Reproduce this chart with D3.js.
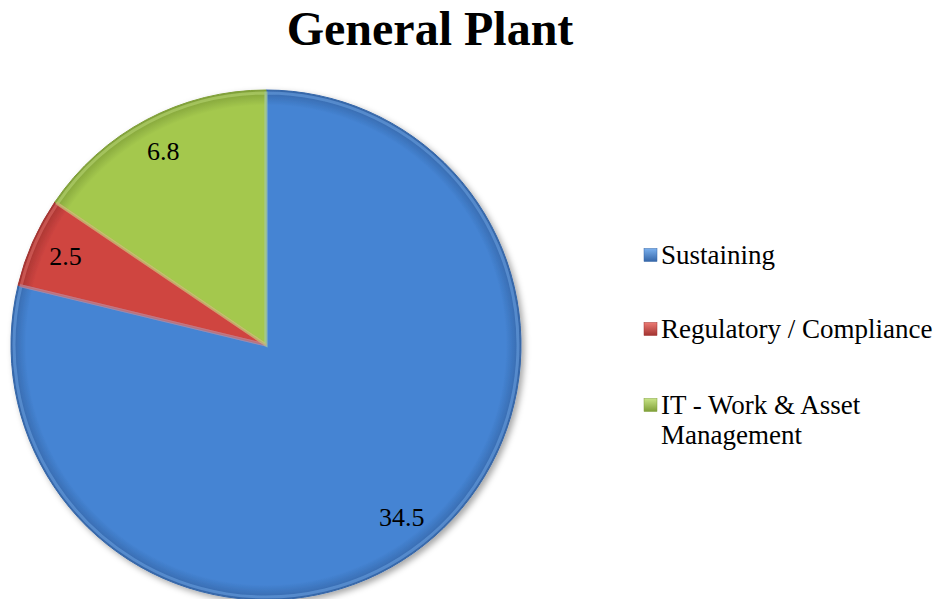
<!DOCTYPE html>
<html>
<head>
<meta charset="utf-8">
<script src="https://cdn.jsdelivr.net/npm/d3@7"></script>
<style>
  body { margin: 0; background: #fff; }
  svg { display: block; }
</style>
</head>
<body>
<div id="chart"></div>
<script>
const categories = ["Sustaining", "Regulatory / Compliance", "IT - Work & Asset Management"];
const values = [34.5, 2.5, 6.8];
const colors = ["#4584d3", "#cf4541", "#a4c84e"];
const lightColors = ["#7ab0ee", "#ec7a74", "#c8e486"];
const darkColors = ["#3566a8", "#a23330", "#7f9f38"];

const width = 934, height = 599;
const cx = 266, cy = 345, radius = 255;
const FONT = "Liberation Serif";

const svg = d3.select("#chart").append("svg")
    .attr("width", width)
    .attr("height", height);

const defs = svg.append("defs");

// gradients for a soft bevelled look (local coords of the pie group)
colors.forEach((c, idx) => {
    const g = defs.append("radialGradient")
        .attr("id", "grad" + idx)
        .attr("gradientUnits", "userSpaceOnUse")
        .attr("cx", 0).attr("cy", 0).attr("r", radius);
    g.append("stop").attr("offset", "0%").attr("stop-color", c);
    g.append("stop").attr("offset", "94%").attr("stop-color", c);
    g.append("stop").attr("offset", "100%").attr("stop-color", darkColors[idx]);
});

const shadow = defs.append("filter").attr("id", "shadow")
    .attr("x", "-10%").attr("y", "-10%").attr("width", "120%").attr("height", "120%");
shadow.append("feDropShadow")
    .attr("dx", 3).attr("dy", 3).attr("stdDeviation", 3)
    .attr("flood-color", "#000").attr("flood-opacity", 0.35);

// legend marker gradients
colors.forEach((c, idx) => {
    const g = defs.append("linearGradient")
        .attr("id", "lg" + idx)
        .attr("x1", 0).attr("y1", 0).attr("x2", 0).attr("y2", 1);
    g.append("stop").attr("offset", "0%").attr("stop-color", lightColors[idx]);
    g.append("stop").attr("offset", "100%").attr("stop-color", darkColors[idx]);
});

// title
svg.append("text")
    .attr("x", 430)
    .attr("y", 45)
    .attr("text-anchor", "middle")
    .attr("font-family", FONT)
    .attr("font-weight", "bold")
    .attr("font-size", 48)
    .attr("fill", "#000")
    .text("General Plant");

const pie = d3.pie().sort(null).value(d => d);
const arcs = pie(values);

const arc = d3.arc().innerRadius(0).outerRadius(radius);
const innerArc = d3.arc().innerRadius(0).outerRadius(radius - 3);
const labelArc = d3.arc().innerRadius(radius * 0.86).outerRadius(radius * 0.86);

const g = svg.append("g").attr("transform", `translate(${cx},${cy})`);

g.append("g")
    .attr("filter", "url(#shadow)")
    .selectAll("path.slice")
    .data(arcs)
    .enter()
    .append("path")
    .attr("class", "slice")
    .attr("d", arc)
    .attr("fill", (d, idx) => `url(#grad${idx})`)
    .attr("stroke", (d, idx) => darkColors[idx])
    .attr("stroke-width", 1);

// light bevel edge just inside each slice
g.selectAll("path.bevel")
    .data(arcs)
    .enter()
    .append("path")
    .attr("class", "bevel")
    .attr("d", innerArc)
    .attr("fill", "none")
    .attr("stroke", (d, idx) => lightColors[idx])
    .attr("stroke-opacity", 0.45)
    .attr("stroke-width", 3);

// data labels
g.selectAll("text.label")
    .data(arcs)
    .enter()
    .append("text")
    .attr("class", "label")
    .attr("transform", d => `translate(${labelArc.centroid(d)})`)
    .attr("text-anchor", "middle")
    .attr("dy", "0.35em")
    .attr("font-family", FONT)
    .attr("font-size", 26)
    .attr("fill", "#000")
    .text(d => d.data);

// legend
const legendX = 644;
const legendY = [255, 329, 405];
const legend = svg.append("g");
categories.forEach((name, idx) => {
    const row = legend.append("g").attr("transform", `translate(${legendX},${legendY[idx]})`);
    row.append("rect")
        .attr("x", 0).attr("y", -6.5)
        .attr("width", 13).attr("height", 13)
        .attr("fill", `url(#lg${idx})`)
        .attr("stroke", darkColors[idx])
        .attr("stroke-width", 0.5);
    const lines = idx === 2 ? ["IT - Work & Asset", "Management"] : [name];
    const t = row.append("text")
        .attr("x", 17)
        .attr("y", 0)
        .attr("font-family", FONT)
        .attr("font-size", 27)
        .attr("fill", "#000");
    t.selectAll("tspan")
        .data(lines)
        .enter()
        .append("tspan")
        .attr("x", 17)
        .attr("dy", (d, k) => k === 0 ? "0.35em" : "1.1em")
        .text(d => d);
});
</script>
</body>
</html>
